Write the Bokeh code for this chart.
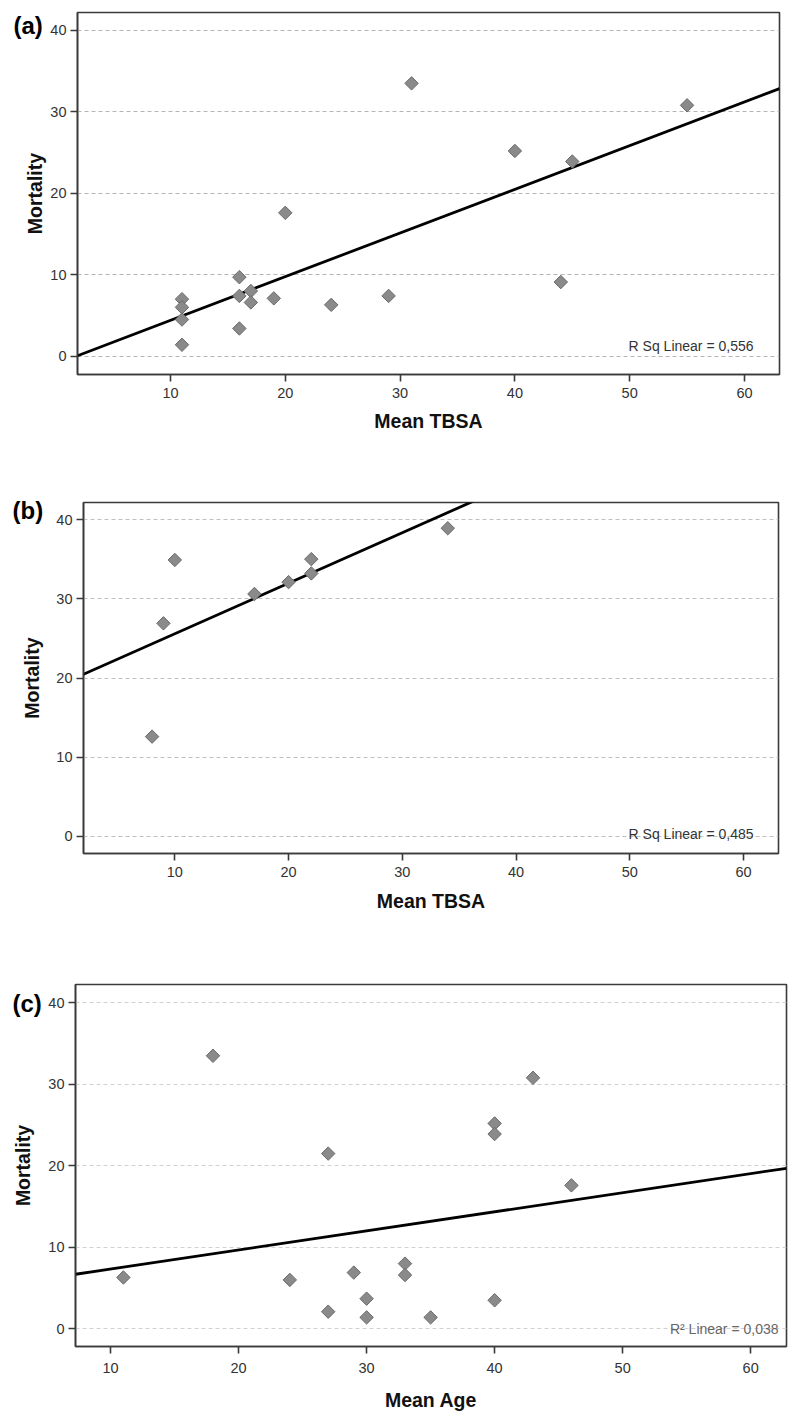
import numpy as np
from bokeh.plotting import figure
from bokeh.models import Label, SingleIntervalTicker, Range1d
from bokeh.layouts import column
from bokeh.embed import file_html
from bokeh.resources import INLINE

# ---------------- data ----------------
# Panel (a): Mortality vs Mean TBSA
a_tbsa = [11, 11, 11, 11, 16, 16, 16, 17, 17, 19, 20, 24, 29, 31, 40, 44, 45, 55]
a_mortality = [7.0, 6.0, 4.5, 1.4, 9.7, 7.4, 3.4, 8.0, 6.6, 7.1, 17.6, 6.3, 7.4,
               33.5, 25.2, 9.1, 23.9, 30.8]
a_r2_text = "R Sq Linear = 0,556"

# Panel (b): Mortality vs Mean TBSA
b_tbsa = [8, 9, 10, 17, 20, 22, 22, 34]
b_mortality = [12.6, 26.9, 34.9, 30.6, 32.1, 35.0, 33.2, 38.9]
b_r2_text = "R Sq Linear = 0,485"

# Panel (c): Mortality vs Mean Age
c_age = [11, 18, 24, 27, 27, 29, 30, 30, 33, 33, 35, 40, 40, 40, 43, 46]
c_mortality = [6.3, 33.5, 6.0, 21.5, 2.1, 6.9, 3.7, 1.4, 8.0, 6.6, 1.4, 3.5,
               25.2, 23.9, 30.8, 17.6]
c_r2_text = "R\u00b2 Linear = 0,038"

y_label = "Mortality"
FONT = "Liberation Sans"
W = 792


def make_panel(x, y, letter, xlabel, r2_text, xr, yr, height,
               bl, fw, bt, fh, grid_color, letter_off, letter_side,
               r2_off, r2_color, ylab_standoff, xlab_standoff, xtick_standoff):
    br = W - bl - fw
    bb = height - bt - fh
    p = figure(width=W, height=height, output_backend="svg",
               toolbar_location=None, x_range=Range1d(*xr), y_range=Range1d(*yr),
               min_border_left=bl, min_border_right=br,
               min_border_top=bt, min_border_bottom=bb)
    if "frame_align" in p.properties():
        p.frame_align = False
    p.background_fill_color = "white"
    p.border_fill_color = "white"
    p.outline_line_color = "#3a3a3a"
    p.outline_line_width = 1.6

    p.xaxis.ticker = SingleIntervalTicker(interval=10, num_minor_ticks=0)
    p.yaxis.ticker = SingleIntervalTicker(interval=10, num_minor_ticks=0)
    for ax in (p.xaxis, p.yaxis):
        ax.axis_line_color = "#3a3a3a"
        ax.axis_line_width = 1.6
        ax.major_tick_line_color = "#3a3a3a"
        ax.major_tick_line_width = 1.6
        ax.major_tick_out = 7
        ax.major_tick_in = 0
        ax.minor_tick_line_color = None
        ax.major_label_text_font = FONT
        ax.major_label_text_font_size = "14.5px"
        ax.major_label_text_color = "#333333"
        ax.axis_label_text_font = FONT
        ax.axis_label_text_font_style = "bold"
        ax.axis_label_text_font_size = "19.5px"
        ax.axis_label_text_color = "#111111"
    p.xaxis.axis_label = xlabel
    p.yaxis.axis_label = y_label
    p.xaxis.major_label_standoff = xtick_standoff
    p.yaxis.major_label_standoff = 4
    p.xaxis.axis_label_standoff = xlab_standoff
    p.yaxis.axis_label_standoff = ylab_standoff

    p.xgrid.visible = False
    p.ygrid.grid_line_color = grid_color
    p.ygrid.grid_line_dash = "4 3"
    p.ygrid.grid_line_width = 1

    # regression line (least squares fit of the points)
    slope, icpt = np.polyfit(np.array(x, float), np.array(y, float), 1)
    lx = np.array([xr[0], xr[1]])
    p.line(lx, icpt + slope * lx, line_color="black", line_width=2.8)

    p.scatter(x, y, marker="square", size=9.5, angle=np.pi / 4,
              fill_color="#8a8a8a", line_color="#6a6a6a", line_width=1)

    # panel letter, placed outside the frame (side panel => not clipped)
    ux = (xr[1] - xr[0]) / fw
    uy = (yr[1] - yr[0]) / fh
    p.add_layout(Label(x=xr[0] + letter_off[0] * ux, y=yr[1] - letter_off[1] * uy,
                       text=letter, text_font=FONT,
                       text_font_size="24px", text_font_style="bold",
                       text_color="black", text_align="left",
                       text_baseline="middle"), letter_side)
    p.add_layout(Label(x=fw - r2_off[0], y=r2_off[1], x_units="screen",
                       y_units="screen", text=r2_text, text_font=FONT,
                       text_font_size="14px", text_color=r2_color,
                       text_align="right", text_baseline="middle"))
    return p


pa = make_panel(a_tbsa, a_mortality, "(a)", "Mean TBSA", a_r2_text,
                (1.9, 63.05), (-2.25, 42.2), 465,
                77, 702, 12, 362, "#b5b5b5", (-64, 13), "below",
                (26, 29), "#333333", 1, 9, 6)
pb = make_panel(b_tbsa, b_mortality, "(b)", "Mean TBSA", b_r2_text,
                (1.97, 63.08), (-2.15, 42.15), 475,
                83, 695, 37, 351, "#c0c0c0", (-71, 8), "above",
                (25, 20), "#333333", 10, 10, 6)
pc = make_panel(c_age, c_mortality, "(c)", "Mean Age", c_r2_text,
                (7.26, 62.8), (-2.17, 42.25), 475,
                75, 711, 44, 362, "#d0d0d0", (-63, 19), "above",
                (8, 18), "#666666", 11, 13, 9)

layout = column(pa, pb, pc, spacing=0)
open("out.html", "w").write(file_html(layout, INLINE))
